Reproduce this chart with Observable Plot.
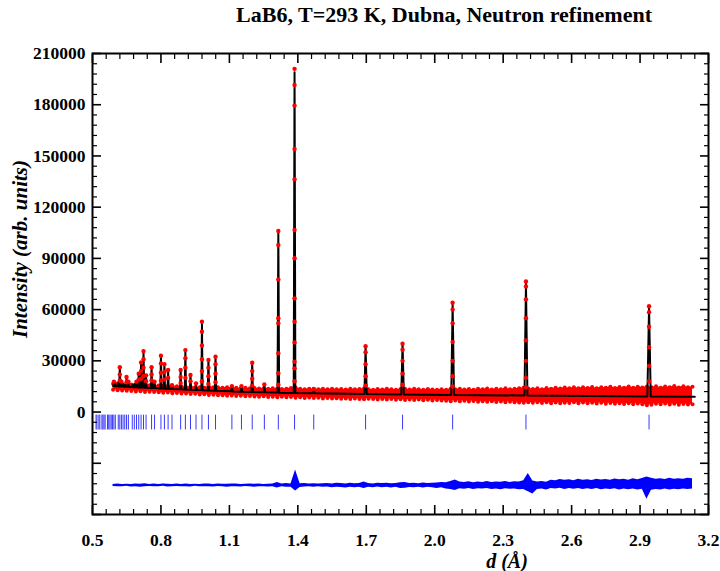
<!DOCTYPE html>
<html>
<head>
<meta charset="utf-8">
<script src="https://cdn.jsdelivr.net/npm/d3@7"></script>
<script src="https://cdn.jsdelivr.net/npm/@observablehq/plot@0.6"></script>
<style>
  body { margin: 0; background: #fff; }
  #wrap { position: relative; width: 720px; height: 571px; overflow: hidden; }
  .t { position: absolute; font-family: "Liberation Serif", "Times New Roman", serif; font-weight: bold; color: #000; white-space: nowrap; }
</style>
</head>
<body>
<div id="wrap">
  <div class="t" id="title" style="left:444px; top:15px; font-size:22px; transform:translate(-50%,-50%);">LaB6, T=293 K, Dubna, Neutron refinement</div>
  <div class="t" id="ylab" style="left:20px; top:249px; font-size:21px; font-style:italic; transform:translate(-50%,-50%) rotate(-90deg);">Intensity (arb. units)</div>
  <div class="t" id="xlab" style="left:507px; top:561px; font-size:20px; font-style:italic; transform:translate(-50%,-50%);">d (Å)</div>
</div>
<script>
// ---------------- data ----------------
// axis ticks
const yMajor = [-60000, -30000, 0, 30000, 60000, 90000, 120000, 150000, 180000, 210000];
const yLabels = [0, 30000, 60000, 90000, 120000, 150000, 180000, 210000];
const xMajor = [0.5, 0.8, 1.1, 1.4, 1.7, 2.0, 2.3, 2.6, 2.9, 3.2];

// d grid of the observed band / difference curve
const gridD = [0.59,0.61,0.63,0.65,0.67,0.69,0.71,0.73,0.75,0.77,0.79,0.81,0.83,0.85,0.87,0.89,0.91,0.93,0.95,0.97,
0.99,1.01,1.03,1.05,1.07,1.09,1.11,1.13,1.15,1.17,1.19,1.21,1.23,1.25,1.27,1.29,1.31,1.33,1.35,1.37,
1.39,1.41,1.43,1.45,1.47,1.49,1.51,1.53,1.55,1.57,1.59,1.61,1.63,1.65,1.67,1.69,1.71,1.73,1.75,1.77,
1.79,1.81,1.83,1.85,1.87,1.89,1.91,1.93,1.95,1.97,1.99,2.01,2.03,2.05,2.07,2.09,2.11,2.13,2.15,2.17,
2.19,2.21,2.23,2.25,2.27,2.29,2.31,2.33,2.35,2.37,2.39,2.41,2.43,2.45,2.47,2.49,2.51,2.53,2.55,2.57,
2.59,2.61,2.63,2.65,2.67,2.69,2.71,2.73,2.75,2.77,2.79,2.81,2.83,2.85,2.87,2.89,2.91,2.93,2.95,2.97,
2.99,3.01,3.03,3.05,3.07,3.09,3.11,3.13];

// observed intensity band (upper / lower envelope of the red points)
const obsHi = [16600,16900,16400,16600,16200,16300,16000,16100,15700,15900,
15500,15600,15200,15300,15100,15000,14700,14900,14500,14600,
14300,14900,14500,14600,14300,14500,14200,14300,14000,14200,
13900,14100,13800,14000,13700,13900,13800,13500,13700,14100,
14400,13600,13400,13700,13500,13300,13600,13400,13700,13300,
13500,13200,13600,13300,13500,13800,13400,13100,13500,13200,
13600,13300,13100,13500,13700,13200,13600,13300,13000,13500,
13200,13100,13400,13000,13600,13300,13700,13200,13500,13100,
13600,13300,13800,13200,13700,13400,13900,13300,13600,14000,
14200,13800,13500,14000,13400,14100,13700,14300,13800,14400,
13900,14500,14000,14600,14100,14700,14000,14600,14200,14800,
14100,14700,14300,14900,14200,14800,14400,15000,14600,15100,
14300,15000,14500,15200,14400,15100,14600,14800];
const obsLo = [13000,12700,12600,12500,12300,12100,12200,11800,11900,11700,
11600,11300,11400,11000,11200,10800,10900,10600,10700,10300,
10400,10000,10100,9800,9900,9600,9700,9400,9500,9200,
9400,9100,9000,9200,8800,9000,8700,8900,8600,8800,
8400,8600,8300,8500,8200,8400,8000,8200,7900,8100,
7800,8000,7700,7900,7600,7500,7800,7600,7400,7700,
7300,7600,7200,7500,7100,7400,7000,7300,6900,7200,
6800,7100,6700,6600,6400,6700,6300,6600,6200,6500,
6100,6400,6000,6300,5900,6200,5800,6100,5700,5600,
5400,5700,5500,5800,5300,5700,5200,5600,5100,5500,
5300,5700,5200,5600,5100,5500,5000,5400,4900,5300,
4800,5200,4700,5100,4600,5000,4500,4000,4300,4900,
4500,5000,4400,4800,4300,4700,4400,4600];

// difference (obs - calc): upper / lower envelope of the blue curve
const diffHi = [600,800,500,700,600,900,700,1000,600,800,500,800,700,600,800,500,900,600,700,600,900,
800,600,900,700,700,900,800,600,700,900,700,800,600,700,900,1800,900,1100,900,9000,1000,1100,800,1000,800,
1000,1200,900,1300,1100,900,1300,1000,1200,2000,1200,900,1300,1100,1300,1000,1200,1600,1800,1100,1300,1000,1400,1200,1300,
1500,1800,1600,2400,3200,2000,1700,2200,1600,2000,1800,2300,1700,2100,1900,2400,1800,2200,2000,2800,7000,2600,2100,2400,1900,
3000,2700,3500,3000,3300,2800,3600,3100,3400,2900,3700,3200,3500,3000,3800,3300,3600,3100,3900,3400,4100,5000,4300,3700,4000,3500,4200,3700,4000,3600,4300,3900];
const diffLo = [-600,-800,-700,-500,-900,-700,-1000,-700,-600,-800,-700,-500,-900,-700,-600,-800,-700,-900,-500,-700,-700,
-700,-900,-600,-800,-1000,-700,-800,-900,-600,-700,-1000,-700,-800,-900,-700,-1500,-800,-1000,-1000,-3200,-1200,-900,-700,-1000,-800,
-1100,-900,-1400,-1000,-1200,-1500,-1000,-1300,-1100,-1800,-1000,-1400,-900,-1300,-1100,-1500,-1000,-1800,-1600,-1200,-1400,-1000,-1500,-1100,-1300,
-1700,-1400,-2000,-2300,-3000,-1900,-2200,-1700,-2400,-1900,-2100,-1800,-2300,-2000,-2500,-1900,-2200,-2000,-2500,-2300,-3700,-5000,-2400,-2100,-2600,
-1700,-2100,-1600,-2300,-1800,-2200,-1700,-2400,-1900,-2300,-1800,-2500,-2000,-2400,-1900,-2600,-2100,-2500,-2000,-2700,-2200,-8000,-2800,-2300,-2700,-2100,-2600,-2200,-2500,-2000,-2400,-2100];
const diffOffset = -43000;

// calculated profile (black line): [d, intensity]
const calcPts = [
[0.5900,15200],[0.5910,15200],[0.5938,17500],[0.5966,15150],[0.5975,15150],[0.6000,16500],[0.6025,15100],
[0.6100,15050],[0.6129,17000],[0.6158,15000],[0.6170,15000],[0.6197,26000],[0.6224,14950],
[0.6240,14950],[0.6267,17500],[0.6294,14900],[0.6312,14900],[0.6339,16500],[0.6366,14850],
[0.6388,14850],[0.6414,16000],[0.6440,14800],[0.6465,14800],[0.6492,20000],[0.6519,14750],
[0.6546,14750],[0.6573,17500],[0.6600,14700],[0.6716,14650],[0.6743,16000],[0.6770,14600],
[0.6807,14550],[0.6834,16500],[0.6861,14550],[0.6901,14500],[0.6928,17500],[0.6955,14500],
[0.7000,14450],[0.7026,22000],[0.7052,14400],[0.7103,14400],[0.7129,29000],[0.7155,14350],
[0.7210,14350],[0.7236,35500],[0.7262,14300],[0.7322,14300],[0.7348,21000],[0.7374,14250],
[0.7563,14150],[0.7589,26000],[0.7615,14100],[0.7693,14100],[0.7719,17500],[0.7745,14050],
[0.7974,13850],[0.8000,33000],[0.8026,13800],[0.8126,13750],[0.8152,28000],[0.8178,13700],
[0.8288,13650],[0.8314,24500],[0.8340,13600],[0.8459,13550],[0.8485,15500],[0.8511,13500],
[0.8837,13350],[0.8863,24500],[0.8889,13300],[0.9045,13200],[0.9071,36000],[0.9097,13150],
[0.9269,13100],[0.9295,22000],[0.9321,13050],[0.9511,12950],[0.9537,16800],[0.9563,12900],
[0.9772,12850],[0.9798,51500],[0.9824,12800],[1.0052,12650],[1.0082,30500],[1.0112,12600],
[1.0362,12500],[1.0392,32500],[1.0422,12450],[1.1080,12150],[1.1110,15200],[1.1140,12100],
[1.1499,11950],[1.1529,15000],[1.1559,11950],[1.1970,11800],[1.2000,29000],[1.2030,11800],
[1.2500,11600],[1.2533,16200],[1.2566,11550],[1.3110,11400],[1.3145,105000],[1.3180,11350],
[1.3820,11150],[1.3856,199000],[1.3892,11100],[1.4660,10950],[1.4697,13000],[1.4734,10950],
[1.6920,10550],[1.6970,38000],[1.7020,10550],[1.8535,10300],[1.8590,40000],[1.8645,10300],
[2.0725,10000],[2.0785,63000],[2.0845,10000],[2.3935,9700],[2.3999,75500],[2.4063,9700],
[2.9320,9150],[2.9394,61000],[2.9468,9150],[3.1400,9000]];

// observed points on the Bragg peaks (red dots)
const obsPeakD = [0.5938,0.6197,0.6267,0.6492,0.6573,0.6928,0.7026,0.7129,0.7236,0.7348,0.7589,0.7719,
0.8000,0.8152,0.8314,0.8485,0.8863,0.9071,0.9295,0.9537,0.9798,1.0082,1.0392,1.1110,1.1529,1.2000,1.2533,
1.3145,1.3856,1.4697,1.6970,1.8590,2.0785,2.3999,2.9394];
const obsPeakVals = [[17800],[26300,22000,18500],[17800],[20500,17500],[17800],[17800],[22500,19000],
[29000,24000,19500],[35700,31000,26000,21000],[21500,18000],[26200,22000,18500],[17800],
[33000,28500,23000,18500],[28000,23500,19000],[24600,20000],[15800],[24600,20500,17000],
[36300,31500,26000,20000],[21700,18000],[16800],[52900,47000,39000,31000,24000,18000],
[30500,26000,21000,16500],[32400,28000,22500,17500],[15200],[15200],[28900,24000,19500,15500],[16200],
[106000,97900,77700,54900,52000,34400,22700,16000],
[201000,191600,179500,154100,136400,106600,90100,66600,52900,40800,29500,25600,18000],
[13500],[38500,35000,28000,21000,15500],[40000,36500,30000,22500,16000],
[64000,60000,52000,41000,30000,21000,15000],[76500,73500,66000,55000,42000,30000,20000,14500],
[62000,58500,50000,38000,27000,18000]];

// Bragg reflection positions (LaB6, d in Å)
const braggD = [2.9394,2.3999,2.0785,1.8590,1.6970,1.4697,1.3856,1.3145,1.2533,1.2000,1.1529,1.1110,
1.0392,1.0082,0.9798,0.9537,0.9295,0.9071,0.8863,0.8485,0.8314,0.8152,0.8000,0.7719,0.7589,0.7348,
0.7236,0.7129,0.7026,0.6928,0.6834,0.6743,0.6573,0.6492,0.6414,0.6339,0.6267,0.6197,0.6129,0.6000,
0.5938,0.5879,0.5821,0.5765,0.5710,0.5657,0.5555,0.5506,0.5458,0.5412,0.5322,0.5279,0.5196,0.5156];

// ---------------- build ----------------
const band = gridD.map((d, i) => ({d, lo: obsLo[i], hi: obsHi[i], dlo: diffLo[i] + diffOffset, dhi: diffHi[i] + diffOffset}));
const calc = calcPts.map(([d, v]) => ({d, v}));
const peakDots = obsPeakD.flatMap((d, i) => obsPeakVals[i].map(v => ({d, v})));

const yMinor = d3.range(-60000, 210001, 6000).filter(v => v % 30000 !== 0);
const xMinor = d3.range(0, 46).filter(i => i % 5 !== 0).map(i => +(0.5 + i * 0.06).toFixed(2));

const tickOpts = {fill: "none", label: null, stroke: "black", tickFormat: () => ""};

const chart = Plot.plot({
  width: 720, height: 571,
  marginLeft: 92, marginRight: 12, marginTop: 53, marginBottom: 57,
  style: {fontFamily: '"Liberation Serif", "Times New Roman", serif', fontWeight: "bold", fontSize: "17.5px", color: "black", background: "white"},
  x: {domain: [0.5, 3.2], axis: null},
  y: {domain: [-60000, 210000], axis: null},
  marks: [
    // observed band (envelope + edge points)
    Plot.areaY(band, {x: "d", y1: "lo", y2: "hi", fill: "#ff0000"}),
    Plot.dot(band, {x: "d", y: "hi", r: 2, fill: "#ff0000"}),
    Plot.dot(band, {x: "d", y: "lo", r: 2, fill: "#ff0000"}),
    // calculated
    Plot.line(calc, {x: "d", y: "v", stroke: "black", strokeWidth: 2}),
    // observed points on peaks
    Plot.dot(peakDots, {x: "d", y: "v", r: 2.2, fill: "#ff0000"}),
    // Bragg positions
    Plot.ruleX(braggD, {y1: -1800, y2: -10500, stroke: "#3a3aff", strokeWidth: 1}),
    // difference curve
    Plot.areaY(band, {x: "d", y1: "dlo", y2: "dhi", fill: "#0000ff"}),
    // axes: inward ticks on all four sides
    Plot.axisY(yMajor, {anchor: "left", tickSize: -9, strokeWidth: 1.6, ...tickOpts}),
    Plot.axisY(yMinor, {anchor: "left", tickSize: -5, strokeWidth: 1.2, ...tickOpts}),
    Plot.axisY(yMajor, {anchor: "right", tickSize: -9, strokeWidth: 1.6, ...tickOpts}),
    Plot.axisY(yMinor, {anchor: "right", tickSize: -5, strokeWidth: 1.2, ...tickOpts}),
    Plot.axisX(xMajor, {anchor: "bottom", tickSize: -9, strokeWidth: 1.6, ...tickOpts}),
    Plot.axisX(xMinor, {anchor: "bottom", tickSize: -5, strokeWidth: 1.2, ...tickOpts}),
    Plot.axisX(xMajor, {anchor: "top", tickSize: -9, strokeWidth: 1.6, ...tickOpts}),
    Plot.axisX(xMinor, {anchor: "top", tickSize: -5, strokeWidth: 1.2, ...tickOpts}),
    // labels
    Plot.axisY(yLabels, {anchor: "left", tickSize: 0, tickPadding: 7, label: null, tickFormat: d => String(d), fontSize: 17.5, fontWeight: "bold", fill: "black"}),
    Plot.axisX(xMajor, {anchor: "bottom", tickSize: 0, tickPadding: 19, label: null, tickFormat: d => d.toFixed(1), fontSize: 17.5, fontWeight: "bold", fill: "black"}),
    Plot.frame({stroke: "black", strokeWidth: 2})
  ]
});
chart.style.position = "absolute";
chart.style.left = "0px";
chart.style.top = "0px";
const wrap = document.getElementById("wrap");
wrap.insertBefore(chart, wrap.firstChild);
</script>
</body>
</html>
